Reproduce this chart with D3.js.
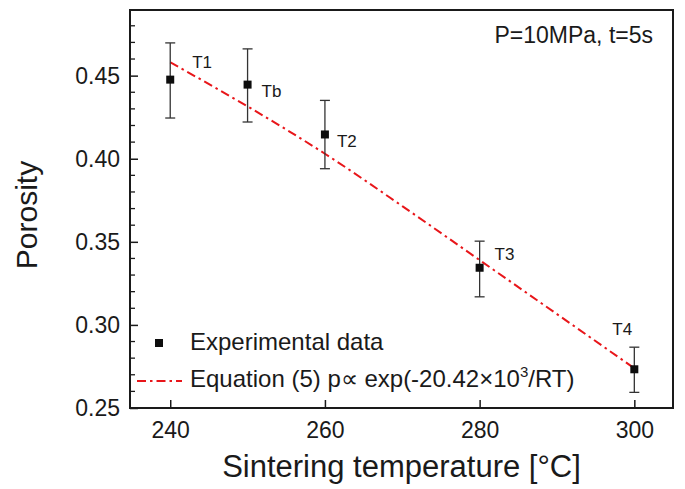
<!DOCTYPE html>
<html>
<head>
<meta charset="utf-8">
<script src="https://cdn.jsdelivr.net/npm/d3@7"></script>
<style>
  body { margin: 0; background: #fff; }
  text { font-family: "Liberation Sans", Arial, sans-serif; fill: #1a1a1a; }
</style>
</head>
<body>
<div id="chart"></div>
<script>
// data
const temps = [240, 250, 260, 280, 300];
const porosity = [0.4476, 0.4446, 0.4146, 0.3344, 0.2733];
const errLow = [0.4245, 0.4221, 0.394, 0.3169, 0.2594];
const errHigh = [0.4697, 0.4661, 0.4351, 0.3504, 0.2866];
const pointLabels = ["T1", "Tb", "T2", "T3", "T4"];

const fitTemps = [240, 250, 260, 270, 280, 290, 300];
const fitPorosity = [0.458, 0.4315, 0.403, 0.3715, 0.339, 0.3065, 0.2739];

const xTicks = [240, 260, 280, 300];
const yTicks = [0.25, 0.30, 0.35, 0.40, 0.45];

function drawChart() {
  const container = d3.select("#chart");
  container.selectAll("*").remove();

  const width = 685;
  const height = 489;
  const margin = { top: 10, right: 12, bottom: 81, left: 130 };

  const svg = container.append("svg")
    .attr("width", width)
    .attr("height", height);

  const x = d3.scaleLinear()
    .domain([234.8, 305])
    .range([margin.left, width - margin.right]);

  const y = d3.scaleLinear()
    .domain([0.25, 0.4895])
    .range([height - margin.bottom, margin.top]);

  const x0 = margin.left, x1 = width - margin.right;
  const y0 = height - margin.bottom, y1 = margin.top;

  // minor y ticks every 0.01, pointing inward
  const minorY = d3.range(26, 49).filter(v => v % 5 !== 0).map(v => v / 100);
  svg.append("g")
    .selectAll("line")
    .data(minorY)
    .enter()
    .append("line")
    .attr("x1", x0)
    .attr("x2", x0 + 5)
    .attr("y1", d => y(d))
    .attr("y2", d => y(d))
    .attr("stroke", "#1a1a1a")
    .attr("stroke-width", 1.3);

  // y axis
  const yAxis = svg.append("g")
    .attr("transform", `translate(${x0},0)`)
    .call(d3.axisLeft(y).tickValues(yTicks).tickFormat(d3.format(".2f")).tickSize(-8).tickPadding(10));
  yAxis.select(".domain").remove();
  yAxis.selectAll(".tick line").attr("stroke", "#1a1a1a").attr("stroke-width", 1.5);
  yAxis.selectAll("text").style("font-size", "23px").attr("fill", "#1a1a1a");

  // x axis
  const xAxis = svg.append("g")
    .attr("transform", `translate(0,${y0})`)
    .call(d3.axisBottom(x).tickValues(xTicks).tickSize(-8).tickPadding(14));
  xAxis.select(".domain").remove();
  xAxis.selectAll(".tick line").attr("stroke", "#1a1a1a").attr("stroke-width", 1.5);
  xAxis.selectAll("text").style("font-size", "23px").attr("fill", "#1a1a1a");

  // frame
  svg.append("rect")
    .attr("x", x0)
    .attr("y", y1)
    .attr("width", x1 - x0)
    .attr("height", y0 - y1)
    .attr("fill", "none")
    .attr("stroke", "#1a1a1a")
    .attr("stroke-width", 2);

  // fit curve
  const fitData = fitTemps.map((t, i) => ({ t: t, p: fitPorosity[i] }));
  const line = d3.line()
    .x(d => x(d.t))
    .y(d => y(d.p))
    .curve(d3.curveMonotoneX);

  svg.append("path")
    .datum(fitData)
    .attr("d", line)
    .attr("fill", "none")
    .attr("stroke", "#e8161a")
    .attr("stroke-width", 2)
    .attr("stroke-dasharray", "9,4,2.5,4");

  const pts = temps.map((t, i) => ({
    t: t, p: porosity[i], lo: errLow[i], hi: errHigh[i], label: pointLabels[i]
  }));

  // error bars
  const eb = svg.append("g").attr("stroke", "#333").attr("stroke-width", 1.3);
  eb.selectAll(".stem")
    .data(pts)
    .enter()
    .append("line")
    .attr("x1", d => x(d.t))
    .attr("x2", d => x(d.t))
    .attr("y1", d => y(d.lo))
    .attr("y2", d => y(d.hi));
  eb.selectAll(".capHi")
    .data(pts)
    .enter()
    .append("line")
    .attr("x1", d => x(d.t) - 5)
    .attr("x2", d => x(d.t) + 5)
    .attr("y1", d => y(d.hi))
    .attr("y2", d => y(d.hi));
  eb.selectAll(".capLo")
    .data(pts)
    .enter()
    .append("line")
    .attr("x1", d => x(d.t) - 5)
    .attr("x2", d => x(d.t) + 5)
    .attr("y1", d => y(d.lo))
    .attr("y2", d => y(d.lo));

  // squares
  svg.selectAll(".pt")
    .data(pts)
    .enter()
    .append("rect")
    .attr("class", "pt")
    .attr("x", d => x(d.t) - 4)
    .attr("y", d => y(d.p) - 4)
    .attr("width", 8)
    .attr("height", 8)
    .attr("fill", "#0d0d0d");

  // point labels, offset from each point
  const labelOffsets = [[22, -12], [14, 12], [12, 13], [15, -8], [-22, -34]];
  svg.selectAll(".lbl")
    .data(pts)
    .enter()
    .append("text")
    .attr("x", (d, i) => x(d.t) + labelOffsets[i][0])
    .attr("y", (d, i) => y(d.p) + labelOffsets[i][1])
    .style("font-size", "17px")
    .text(d => d.label);

  // condition note
  svg.append("text")
    .attr("x", 653)
    .attr("y", 43)
    .attr("text-anchor", "end")
    .style("font-size", "23px")
    .text("P=10MPa, t=5s");

  // legend
  svg.append("rect")
    .attr("x", 155)
    .attr("y", 339)
    .attr("width", 8)
    .attr("height", 8)
    .attr("fill", "#0d0d0d");
  svg.append("text")
    .attr("x", 190)
    .attr("y", 350)
    .style("font-size", "24px")
    .text("Experimental data");

  svg.append("line")
    .attr("x1", 137)
    .attr("x2", 182)
    .attr("y1", 381)
    .attr("y2", 381)
    .attr("stroke", "#e8161a")
    .attr("stroke-width", 2)
    .attr("stroke-dasharray", "9,4,2.5,4");
  const eq = svg.append("text")
    .attr("x", 190)
    .attr("y", 387)
    .style("font-size", "24px");
  eq.append("tspan").text("Equation (5) p\u221D  exp(-20.42\u00D710");
  eq.append("tspan").attr("dy", -10).style("font-size", "15px").text("3");
  eq.append("tspan").attr("dy", 10).text("/RT)");

  // axis titles
  svg.append("text")
    .attr("x", (x0 + x1) / 2)
    .attr("y", 477)
    .attr("text-anchor", "middle")
    .style("font-size", "31px")
    .text("Sintering temperature [\u00B0C]");

  svg.append("text")
    .attr("transform", `translate(37,215) rotate(-90)`)
    .attr("text-anchor", "middle")
    .style("font-size", "30px")
    .text("Porosity");
}

drawChart();
</script>
</body>
</html>
